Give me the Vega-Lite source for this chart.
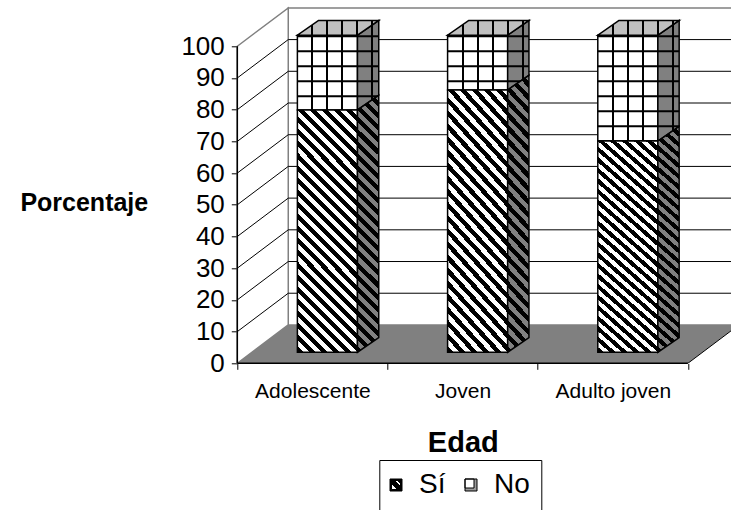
{
  "$schema": "https://vega.github.io/schema/vega-lite/v6.json",
  "width": 493.7,
  "height": 357,
  "autosize": {"type": "none"},
  "padding": {"left": 237.3, "top": 6.3, "right": 0, "bottom": 146.7},
  "background": "white",
  "config": {"font": "Liberation Sans", "view": {"stroke": null}, "axis": {"labelOverlap": false}},
  "datasets": {
    "respuestas": [
      {"edad": "Adolescente", "respuesta": "Sí", "porcentaje": 76.4},
      {"edad": "Adolescente", "respuesta": "No", "porcentaje": 23.6},
      {"edad": "Joven", "respuesta": "Sí", "porcentaje": 82.7},
      {"edad": "Joven", "respuesta": "No", "porcentaje": 17.3},
      {"edad": "Adulto joven", "respuesta": "Sí", "porcentaje": 66.6},
      {"edad": "Adulto joven", "respuesta": "No", "porcentaje": 33.4}
    ],
    "escala": [{"v": 10}, {"v": 20}, {"v": 30}, {"v": 40}, {"v": 50}, {"v": 60}, {"v": 70}, {"v": 80}, {"v": 90}]
  },
  "layer": [
    {
      "data": {"name": "escala"},
      "mark": {"type": "rule", "color": "black", "strokeWidth": 1, "opacity": 0},
      "encoding": {
        "x": {
          "datum": 0.3393, "type": "quantitative",
          "scale": {"domain": [0, 3.2868], "nice": false, "zero": false},
          "axis": {
            "values": [0, 0.5, 1, 1.5, 2, 2.5, 3],
            "tickCount": 7,
            "domain": false, "grid": false,
            "tickSize": 6, "tickColor": "black", "tickWidth": 1,
            "tickOpacity": {"condition": {"test": "datum.value % 1 !== 0 || datum.value > 3", "value": 0}, "value": 1},
            "labelExpr": "datum.value == 0.5 ? 'Adolescente' : datum.value == 1.5 ? 'Joven' : datum.value == 2.5 ? 'Adulto joven' : ''",
            "labelFontSize": 21, "labelColor": "black", "labelPadding": 11.5,
            "labelFlush": false, "labelOverlap": false,
            "title": "Edad", "titleFontSize": 29, "titleFontWeight": "bold", "titleColor": "black",
            "titleX": 225.5, "titleY": 88.4, "titleAlign": "center", "titleBaseline": "alphabetic"
          }
        },
        "y": {
          "field": "v", "type": "quantitative",
          "scale": {"domain": [0, 112.6], "nice": false, "zero": false},
          "axis": {
            "values": [0, 10, 20, 30, 40, 50, 60, 70, 80, 90, 100],
            "tickCount": 12, "tickMinStep": 10,
            "domain": false, "grid": false,
            "tickSize": 6, "tickColor": "black", "tickWidth": 1,
            "tickOpacity": {"condition": {"test": "datum.value > 100", "value": 0}, "value": 1},
            "labelExpr": "datum.value > 100 ? '' : datum.label",
            "labelFontSize": 26, "labelColor": "black", "labelPadding": 7,
            "labelFlush": false, "labelOverlap": false, "labelSeparation": 0,
            "title": "Porcentaje", "titleFontSize": 25, "titleFontWeight": "bold", "titleColor": "black",
            "titleAngle": 0, "titleX": -153.5, "titleY": 204.4, "titleAlign": "center", "titleBaseline": "alphabetic"
          }
        }
      }
    },
    {
      "data": {"values": [{}]},
      "mark": {"type": "rect", "fill": "white", "stroke": "#808080", "strokeWidth": 1.5, "clip": true},
      "encoding": {
        "x": {"datum": 0.3393, "type": "quantitative"},
        "x2": {"datum": 3.5},
        "y": {"datum": 12.1, "type": "quantitative"},
        "y2": {"datum": 112.1}
      }
    },
    {
      "data": {"values": [{}]},
      "transform": [
        {"calculate": "[0, 1]", "as": "k"},
        {"flatten": ["k"]},
        {"calculate": "datum.k * 0.3393", "as": "wx"},
        {"calculate": "datum.k * 12.1", "as": "wy0"},
        {"calculate": "100 + datum.k * 12.1", "as": "wy1"}
      ],
      "mark": {"type": "area", "fill": "white", "stroke": "#808080", "strokeWidth": 1.5},
      "encoding": {
        "x": {"field": "wx", "type": "quantitative"},
        "y": {"field": "wy1", "type": "quantitative", "stack": null},
        "y2": {"field": "wy0"}
      }
    },
    {
      "data": {"name": "escala"},
      "transform": [{"calculate": "datum.v + 12.1", "as": "vb"}],
      "mark": {"type": "rule", "color": "black", "strokeWidth": 1, "clip": true},
      "encoding": {
        "x": {"datum": 0.3393, "type": "quantitative"},
        "x2": {"datum": 3.5},
        "y": {"field": "vb", "type": "quantitative"}
      }
    },
    {
      "data": {"name": "escala"},
      "transform": [{"calculate": "datum.v + 12.1", "as": "vb"}],
      "mark": {"type": "rule", "color": "black", "strokeWidth": 1},
      "encoding": {
        "x": {"datum": 0, "type": "quantitative"},
        "x2": {"datum": 0.3393},
        "y": {"field": "v", "type": "quantitative"},
        "y2": {"field": "vb"}
      }
    },
    {
      "data": {"values": [{}]},
      "transform": [
        {"calculate": "[0, 1]", "as": "k"},
        {"flatten": ["k"]},
        {"calculate": "datum.k * 12.1", "as": "fy"},
        {"calculate": "datum.k * 0.3393", "as": "fx0"},
        {"calculate": "3 + datum.k * 0.3393", "as": "fx1"}
      ],
      "mark": {"type": "area", "orient": "horizontal", "fill": "#808080", "clip": true},
      "encoding": {
        "y": {"field": "fy", "type": "quantitative"},
        "x": {"field": "fx0", "type": "quantitative", "stack": null},
        "x2": {"field": "fx1"}
      }
    },
    {
      "data": {"values": [{}]},
      "mark": {"type": "rule", "color": "black", "strokeWidth": 1.5},
      "encoding": {
        "x": {"datum": 0, "type": "quantitative"},
        "x2": {"datum": 3},
        "y": {"datum": 0, "type": "quantitative"}
      }
    },
    {
      "data": {"values": [{}]},
      "mark": {"type": "rule", "color": "black", "strokeWidth": 1, "clip": true},
      "encoding": {
        "x": {"datum": 3, "type": "quantitative"},
        "x2": {"datum": 3.3393},
        "y": {"datum": 0, "type": "quantitative"},
        "y2": {"datum": 12.1}
      }
    },
    {
      "data": {"values": [{}]},
      "mark": {"type": "rule", "color": "black", "strokeWidth": 1.5},
      "encoding": {
        "x": {"datum": 0, "type": "quantitative"},
        "y": {"datum": 0, "type": "quantitative"},
        "y2": {"datum": 100}
      }
    },
    {
      "data": {"name": "respuestas"},
      "transform": [
        {"stack": "porcentaje", "groupby": ["edad"], "sort": [{"field": "respuesta", "order": "descending"}], "as": ["v0", "v1"]},
        {"calculate": "indexof(['Adolescente', 'Joven', 'Adulto joven'], datum.edad)", "as": "ci"},
        {"calculate": "datum.ci + 0.4", "as": "xl"},
        {"calculate": "datum.ci + 0.8", "as": "xr"},
        {"calculate": "datum.v0 + 3.5", "as": "yf0"},
        {"calculate": "datum.v1 + 3.5", "as": "yf1"},
        {"calculate": "[0, 1]", "as": "k"},
        {"flatten": ["k"]},
        {"calculate": "datum.xr + datum.k * 0.1417", "as": "sx"},
        {"calculate": "datum.yf0 + datum.k * 4.64", "as": "sy0"},
        {"calculate": "datum.yf1 + datum.k * 4.64", "as": "sy1"},
        {"calculate": "datum.xl + datum.k * 0.1417", "as": "tx0"},
        {"calculate": "datum.xr + datum.k * 0.1417", "as": "tx1"}
      ],
      "layer": [
        {
          "transform": [
            {"filter": "datum.k === 0"},
            {"calculate": "datum.xl + 0.2", "as": "xm"},
            {"calculate": "(datum.yf0 + datum.yf1) / 2", "as": "ym"}
          ],
          "mark": {"type": "point", "filled": true, "size": 144, "strokeWidth": 1, "opacity": 1},
          "encoding": {
            "x": {"field": "xm", "type": "quantitative"},
            "y": {"field": "ym", "type": "quantitative"},
            "fill": {
              "field": "respuesta", "type": "nominal",
              "scale": {"domain": ["Sí", "No"], "range": ["black", "#9a9a9a"]},
              "legend": {
                "title": null, "orient": "none", "legendX": 142, "legendY": 453.7,
                "direction": "horizontal", "padding": 11,
                "strokeColor": "black", "fillColor": "white",
                "symbolSize": 144, "symbolStrokeWidth": 1, "symbolStrokeColor": "black", "symbolOffset": -8.3,
                "labelFontSize": 28, "labelColor": "black", "labelOffset": 9,
                "columnPadding": 16
              }
            },
            "stroke": {
              "field": "respuesta", "type": "nominal",
              "scale": {"domain": ["Sí", "No"], "range": ["black", "black"]},
              "legend": {
                "title": null, "orient": "none", "legendX": 142, "legendY": 453.7,
                "direction": "horizontal", "padding": 11,
                "strokeColor": "black", "fillColor": "white",
                "symbolSize": 144, "symbolStrokeWidth": 1, "symbolOffset": -8.3,
                "labelFontSize": 28, "labelColor": "black", "labelOffset": 9,
                "columnPadding": 16
              }
            },
            "shape": {
              "field": "respuesta", "type": "nominal",
              "scale": {
                "domain": ["Sí", "No"],
                "range": [
                  "M-1,-1H1V1H-1Z M-0.75,-0.75V0.75H0.75V-0.75Z M-0.75,-0.75H-0.25L0.75,0.25V0.75H0.25L-0.75,-0.25Z M0.25,-0.75H0.75V-0.25Z",
                  "M-1,-1H1V1H-1Z M-1,-1V0.5H0.5V-1Z"
                ]
              },
              "legend": {
                "title": null, "orient": "none", "legendX": 142, "legendY": 453.7,
                "direction": "horizontal", "padding": 11,
                "strokeColor": "black", "fillColor": "white",
                "symbolSize": 144, "symbolStrokeWidth": 1, "symbolOffset": -8.3,
                "labelFontSize": 28, "labelColor": "black", "labelOffset": 9,
                "columnPadding": 16
              }
            }
          }
        },
        {
          "transform": [{"filter": "datum.respuesta === 'No' && datum.k === 0"}],
          "mark": {
            "type": "rect", "stroke": "black", "strokeWidth": 1.5,
            "fill": {
              "gradient": "linear", "x1": 0, "y1": 0, "x2": 1, "y2": 0,
              "stops": [
                {"offset": 0, "color": "#fff"}, {"offset": 0.2333, "color": "#fff"},
                {"offset": 0.2333, "color": "#000"}, {"offset": 0.2667, "color": "#000"},
                {"offset": 0.2667, "color": "#fff"}, {"offset": 0.4833, "color": "#fff"},
                {"offset": 0.4833, "color": "#000"}, {"offset": 0.5167, "color": "#000"},
                {"offset": 0.5167, "color": "#fff"}, {"offset": 0.7333, "color": "#fff"},
                {"offset": 0.7333, "color": "#000"}, {"offset": 0.7667, "color": "#000"},
                {"offset": 0.7667, "color": "#fff"}, {"offset": 1, "color": "#fff"}
              ]
            }
          },
          "encoding": {
            "x": {"field": "xl", "type": "quantitative"},
            "x2": {"field": "xr"},
            "y": {"field": "yf1", "type": "quantitative"},
            "y2": {"field": "yf0"}
          }
        },
        {
          "transform": [{"filter": "datum.respuesta === 'No'"}],
          "mark": {
            "type": "area", "stroke": "black", "strokeWidth": 1.5,
            "fill": {
              "gradient": "linear", "x1": 0, "y1": 0, "x2": 1, "y2": 0,
              "stops": [
                {"offset": 0, "color": "#808080"}, {"offset": 0.657, "color": "#808080"},
                {"offset": 0.657, "color": "#000"}, {"offset": 0.751, "color": "#000"},
                {"offset": 0.751, "color": "#808080"}, {"offset": 1, "color": "#808080"}
              ]
            }
          },
          "encoding": {
            "x": {"field": "sx", "type": "quantitative"},
            "y": {"field": "sy1", "type": "quantitative", "stack": null},
            "y2": {"field": "sy0"},
            "detail": {"field": "edad", "type": "nominal"}
          }
        },
        {
          "transform": [{"filter": "datum.respuesta === 'No'"}],
          "mark": {
            "type": "area", "orient": "horizontal", "stroke": "black", "strokeWidth": 1.5,
            "fill": {
              "gradient": "linear", "x1": 0, "y1": 0, "x2": 1, "y2": 0,
              "stops": [
                {"offset": 0, "color": "#c0c0c0"}, {"offset": 0.1722, "color": "#c0c0c0"},
                {"offset": 0.1722, "color": "#000"}, {"offset": 0.1968, "color": "#000"},
                {"offset": 0.1968, "color": "#c0c0c0"}, {"offset": 0.3567, "color": "#c0c0c0"},
                {"offset": 0.3567, "color": "#000"}, {"offset": 0.3813, "color": "#000"},
                {"offset": 0.3813, "color": "#c0c0c0"}, {"offset": 0.5412, "color": "#c0c0c0"},
                {"offset": 0.5412, "color": "#000"}, {"offset": 0.5658, "color": "#000"},
                {"offset": 0.5658, "color": "#c0c0c0"}, {"offset": 0.7257, "color": "#c0c0c0"},
                {"offset": 0.7257, "color": "#000"}, {"offset": 0.7503, "color": "#000"},
                {"offset": 0.7503, "color": "#c0c0c0"}, {"offset": 0.9102, "color": "#c0c0c0"},
                {"offset": 0.9102, "color": "#000"}, {"offset": 0.9348, "color": "#000"},
                {"offset": 0.9348, "color": "#c0c0c0"}, {"offset": 1, "color": "#c0c0c0"}
              ]
            }
          },
          "encoding": {
            "y": {"field": "sy1", "type": "quantitative"},
            "x": {"field": "tx0", "type": "quantitative", "stack": null},
            "x2": {"field": "tx1"},
            "detail": {"field": "edad", "type": "nominal"}
          }
        },
        {
          "transform": [
            {"filter": "datum.respuesta === 'No' && datum.k === 0"},
            {"calculate": "datum.xl + 0.2705", "as": "xc"}
          ],
          "mark": {"type": "rule", "color": "black", "strokeWidth": 81.3, "strokeDash": [2, 13], "strokeCap": "butt"},
          "encoding": {
            "x": {"field": "xc", "type": "quantitative"},
            "y": {"field": "yf1", "type": "quantitative"},
            "y2": {"field": "yf0"}
          }
        },
        {
          "transform": [{"filter": "datum.respuesta === 'Sí' && datum.k === 0"}],
          "mark": {
            "type": "rect", "stroke": "black", "strokeWidth": 1.5,
            "fill": {
              "gradient": "linear", "x1": 0, "y1": 1, "x2": 0.2941, "y2": -0.1765,
              "stops": [
                {"offset": 0, "color": "#000"}, {"offset": 0.02, "color": "#000"}, {"offset": 0.02, "color": "#fff"}, {"offset": 0.04, "color": "#fff"},
                {"offset": 0.04, "color": "#000"}, {"offset": 0.06, "color": "#000"}, {"offset": 0.06, "color": "#fff"}, {"offset": 0.08, "color": "#fff"},
                {"offset": 0.08, "color": "#000"}, {"offset": 0.1, "color": "#000"}, {"offset": 0.1, "color": "#fff"}, {"offset": 0.12, "color": "#fff"},
                {"offset": 0.12, "color": "#000"}, {"offset": 0.14, "color": "#000"}, {"offset": 0.14, "color": "#fff"}, {"offset": 0.16, "color": "#fff"},
                {"offset": 0.16, "color": "#000"}, {"offset": 0.18, "color": "#000"}, {"offset": 0.18, "color": "#fff"}, {"offset": 0.2, "color": "#fff"},
                {"offset": 0.2, "color": "#000"}, {"offset": 0.22, "color": "#000"}, {"offset": 0.22, "color": "#fff"}, {"offset": 0.24, "color": "#fff"},
                {"offset": 0.24, "color": "#000"}, {"offset": 0.26, "color": "#000"}, {"offset": 0.26, "color": "#fff"}, {"offset": 0.28, "color": "#fff"},
                {"offset": 0.28, "color": "#000"}, {"offset": 0.3, "color": "#000"}, {"offset": 0.3, "color": "#fff"}, {"offset": 0.32, "color": "#fff"},
                {"offset": 0.32, "color": "#000"}, {"offset": 0.34, "color": "#000"}, {"offset": 0.34, "color": "#fff"}, {"offset": 0.36, "color": "#fff"},
                {"offset": 0.36, "color": "#000"}, {"offset": 0.38, "color": "#000"}, {"offset": 0.38, "color": "#fff"}, {"offset": 0.4, "color": "#fff"},
                {"offset": 0.4, "color": "#000"}, {"offset": 0.42, "color": "#000"}, {"offset": 0.42, "color": "#fff"}, {"offset": 0.44, "color": "#fff"},
                {"offset": 0.44, "color": "#000"}, {"offset": 0.46, "color": "#000"}, {"offset": 0.46, "color": "#fff"}, {"offset": 0.48, "color": "#fff"},
                {"offset": 0.48, "color": "#000"}, {"offset": 0.5, "color": "#000"}, {"offset": 0.5, "color": "#fff"}, {"offset": 0.52, "color": "#fff"},
                {"offset": 0.52, "color": "#000"}, {"offset": 0.54, "color": "#000"}, {"offset": 0.54, "color": "#fff"}, {"offset": 0.56, "color": "#fff"},
                {"offset": 0.56, "color": "#000"}, {"offset": 0.58, "color": "#000"}, {"offset": 0.58, "color": "#fff"}, {"offset": 0.6, "color": "#fff"},
                {"offset": 0.6, "color": "#000"}, {"offset": 0.62, "color": "#000"}, {"offset": 0.62, "color": "#fff"}, {"offset": 0.64, "color": "#fff"},
                {"offset": 0.64, "color": "#000"}, {"offset": 0.66, "color": "#000"}, {"offset": 0.66, "color": "#fff"}, {"offset": 0.68, "color": "#fff"},
                {"offset": 0.68, "color": "#000"}, {"offset": 0.7, "color": "#000"}, {"offset": 0.7, "color": "#fff"}, {"offset": 0.72, "color": "#fff"},
                {"offset": 0.72, "color": "#000"}, {"offset": 0.74, "color": "#000"}, {"offset": 0.74, "color": "#fff"}, {"offset": 0.76, "color": "#fff"},
                {"offset": 0.76, "color": "#000"}, {"offset": 0.78, "color": "#000"}, {"offset": 0.78, "color": "#fff"}, {"offset": 0.8, "color": "#fff"},
                {"offset": 0.8, "color": "#000"}, {"offset": 0.82, "color": "#000"}, {"offset": 0.82, "color": "#fff"}, {"offset": 0.84, "color": "#fff"},
                {"offset": 0.84, "color": "#000"}, {"offset": 0.86, "color": "#000"}, {"offset": 0.86, "color": "#fff"}, {"offset": 0.88, "color": "#fff"},
                {"offset": 0.88, "color": "#000"}, {"offset": 0.9, "color": "#000"}, {"offset": 0.9, "color": "#fff"}, {"offset": 0.92, "color": "#fff"},
                {"offset": 0.92, "color": "#000"}, {"offset": 0.94, "color": "#000"}, {"offset": 0.94, "color": "#fff"}, {"offset": 0.96, "color": "#fff"},
                {"offset": 0.96, "color": "#000"}, {"offset": 0.98, "color": "#000"}, {"offset": 0.98, "color": "#fff"}, {"offset": 1, "color": "#fff"}
              ]
            }
          },
          "encoding": {
            "x": {"field": "xl", "type": "quantitative"},
            "x2": {"field": "xr"},
            "y": {"field": "yf1", "type": "quantitative"},
            "y2": {"field": "yf0"}
          }
        },
        {
          "transform": [{"filter": "datum.respuesta === 'Sí'"}],
          "mark": {
            "type": "area", "stroke": "black", "strokeWidth": 1.5,
            "fill": {
              "gradient": "linear", "x1": 0, "y1": 1, "x2": 0.0888, "y2": -0.0752,
              "stops": [
                {"offset": 0, "color": "#000"}, {"offset": 0.02174, "color": "#000"}, {"offset": 0.02174, "color": "#808080"}, {"offset": 0.04348, "color": "#808080"},
                {"offset": 0.04348, "color": "#000"}, {"offset": 0.06522, "color": "#000"}, {"offset": 0.06522, "color": "#808080"}, {"offset": 0.08696, "color": "#808080"},
                {"offset": 0.08696, "color": "#000"}, {"offset": 0.1087, "color": "#000"}, {"offset": 0.1087, "color": "#808080"}, {"offset": 0.13043, "color": "#808080"},
                {"offset": 0.13043, "color": "#000"}, {"offset": 0.15217, "color": "#000"}, {"offset": 0.15217, "color": "#808080"}, {"offset": 0.17391, "color": "#808080"},
                {"offset": 0.17391, "color": "#000"}, {"offset": 0.19565, "color": "#000"}, {"offset": 0.19565, "color": "#808080"}, {"offset": 0.21739, "color": "#808080"},
                {"offset": 0.21739, "color": "#000"}, {"offset": 0.23913, "color": "#000"}, {"offset": 0.23913, "color": "#808080"}, {"offset": 0.26087, "color": "#808080"},
                {"offset": 0.26087, "color": "#000"}, {"offset": 0.28261, "color": "#000"}, {"offset": 0.28261, "color": "#808080"}, {"offset": 0.30435, "color": "#808080"},
                {"offset": 0.30435, "color": "#000"}, {"offset": 0.32609, "color": "#000"}, {"offset": 0.32609, "color": "#808080"}, {"offset": 0.34783, "color": "#808080"},
                {"offset": 0.34783, "color": "#000"}, {"offset": 0.36957, "color": "#000"}, {"offset": 0.36957, "color": "#808080"}, {"offset": 0.3913, "color": "#808080"},
                {"offset": 0.3913, "color": "#000"}, {"offset": 0.41304, "color": "#000"}, {"offset": 0.41304, "color": "#808080"}, {"offset": 0.43478, "color": "#808080"},
                {"offset": 0.43478, "color": "#000"}, {"offset": 0.45652, "color": "#000"}, {"offset": 0.45652, "color": "#808080"}, {"offset": 0.47826, "color": "#808080"},
                {"offset": 0.47826, "color": "#000"}, {"offset": 0.5, "color": "#000"}, {"offset": 0.5, "color": "#808080"}, {"offset": 0.52174, "color": "#808080"},
                {"offset": 0.52174, "color": "#000"}, {"offset": 0.54348, "color": "#000"}, {"offset": 0.54348, "color": "#808080"}, {"offset": 0.56522, "color": "#808080"},
                {"offset": 0.56522, "color": "#000"}, {"offset": 0.58696, "color": "#000"}, {"offset": 0.58696, "color": "#808080"}, {"offset": 0.6087, "color": "#808080"},
                {"offset": 0.6087, "color": "#000"}, {"offset": 0.63043, "color": "#000"}, {"offset": 0.63043, "color": "#808080"}, {"offset": 0.65217, "color": "#808080"},
                {"offset": 0.65217, "color": "#000"}, {"offset": 0.67391, "color": "#000"}, {"offset": 0.67391, "color": "#808080"}, {"offset": 0.69565, "color": "#808080"},
                {"offset": 0.69565, "color": "#000"}, {"offset": 0.71739, "color": "#000"}, {"offset": 0.71739, "color": "#808080"}, {"offset": 0.73913, "color": "#808080"},
                {"offset": 0.73913, "color": "#000"}, {"offset": 0.76087, "color": "#000"}, {"offset": 0.76087, "color": "#808080"}, {"offset": 0.78261, "color": "#808080"},
                {"offset": 0.78261, "color": "#000"}, {"offset": 0.80435, "color": "#000"}, {"offset": 0.80435, "color": "#808080"}, {"offset": 0.82609, "color": "#808080"},
                {"offset": 0.82609, "color": "#000"}, {"offset": 0.84783, "color": "#000"}, {"offset": 0.84783, "color": "#808080"}, {"offset": 0.86957, "color": "#808080"},
                {"offset": 0.86957, "color": "#000"}, {"offset": 0.8913, "color": "#000"}, {"offset": 0.8913, "color": "#808080"}, {"offset": 0.91304, "color": "#808080"},
                {"offset": 0.91304, "color": "#000"}, {"offset": 0.93478, "color": "#000"}, {"offset": 0.93478, "color": "#808080"}, {"offset": 0.95652, "color": "#808080"},
                {"offset": 0.95652, "color": "#000"}, {"offset": 0.97826, "color": "#000"}, {"offset": 0.97826, "color": "#808080"}, {"offset": 1, "color": "#808080"}
              ]
            }
          },
          "encoding": {
            "x": {"field": "sx", "type": "quantitative"},
            "y": {"field": "sy1", "type": "quantitative", "stack": null},
            "y2": {"field": "sy0"},
            "detail": {"field": "edad", "type": "nominal"}
          }
        }
      ]
    }
  ]
}
